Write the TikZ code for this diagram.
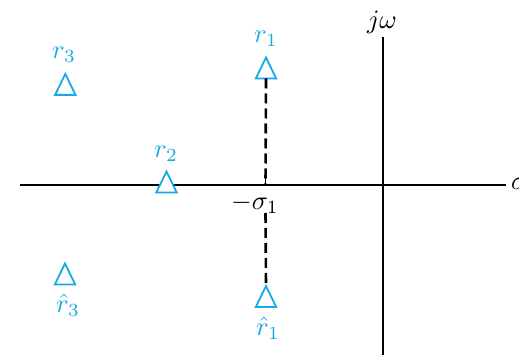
\documentclass[tikz,border=0pt]{standalone}
\usepackage{graphicx}
\definecolor{polecol}{RGB}{20,170,230}
\newcommand{\bigtxt}[1]{\scalebox{2.65}{#1}}
\begin{document}
\begin{tikzpicture}[x=1pt,y=-1pt,
  polestyle/.style={draw=polecol,line width=1.8pt,fill=white,line join=miter},
  tri/.pic={\draw[polestyle] (0,-10.5) -- (10.2,10.5) -- (-10.2,10.5) -- cycle;
            \coordinate (-top) at (0,-10.5);
            \coordinate (-bot) at (0,10.5);},
  lbl/.style={text=polecol,inner sep=0pt},
  axlbl/.style={inner sep=0pt},
  axis/.style={line width=1.6pt},
  guide/.style={line width=2.6pt,dash pattern=on 10pt off 5pt}]
\useasboundingbox (0,0) rectangle (519,355);
% axes
\coordinate (xl) at (20,185);
\coordinate (xr) at (506,185);
\coordinate (yt) at (383,37);
\coordinate (yb) at (383,356);
\draw[axis] (xl) -- (xr);
\draw[axis] (yt) -- (yb);
\node[axlbl] (jw) at (382,22) {\bigtxt{$j\omega$}};
\node[axlbl,anchor=west] (sig) at (511,184) {\bigtxt{$\sigma$}};
% tick and -sigma1
\coordinate (s1) at (265.5,185);
\coordinate (s1t) at (265.5,173);
\coordinate (s1b) at (265.5,213);
\node[axlbl] (ms1) at (255,204) {\bigtxt{$-\sigma_1$}};
% poles
\pic (r1) at (266,68) {tri};
\pic (r1h) at (266,296.5) {tri};
\pic (r2) at (166.5,182) {tri};
\pic (r3) at (65.3,84.4) {tri};
\pic (r3h) at (65,274) {tri};
% dashed guides
\draw[guide] (r1-bot) -- (s1);
\draw[guide] (s1b) -- (r1h-top);
\draw[axis] (s1t) -- (s1);
% labels
\node[lbl] (l1) at (266,39) {\bigtxt{$r_1$}};
\node[lbl] (l1h) at (268,328) {\bigtxt{$\hat r_1$}};
\node[lbl] (l2) at (166,154) {\bigtxt{$r_2$}};
\node[lbl] (l3) at (64,55) {\bigtxt{$r_3$}};
\node[lbl] (l3h) at (68,305) {\bigtxt{$\hat r_3$}};
\end{tikzpicture}
\end{document}
